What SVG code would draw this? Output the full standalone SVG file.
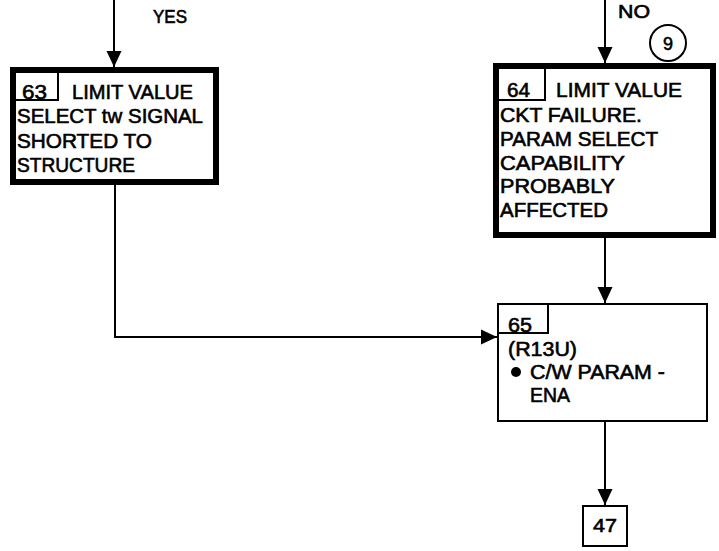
<svg xmlns="http://www.w3.org/2000/svg" width="719" height="551" viewBox="0 0 719 551">
<style>
text{font-family:"Liberation Sans",Arial,sans-serif;font-size:20px;fill:#000;stroke:#000;stroke-width:0.6}
.sm{font-size:18px}
.thick{fill:#fff;stroke:#000;stroke-width:6}
.thin{fill:#fff;stroke:#000;stroke-width:2}
.lbl{fill:none;stroke:#000;stroke-width:2}
.conn{fill:none;stroke:#000;stroke-width:2}
</style>
<defs>
<marker id="ah" markerWidth="16" markerHeight="16" refX="16" refY="8" orient="auto" markerUnits="userSpaceOnUse">
<path d="M0,0.5 L16,8 L0,15.5 Z" fill="#000"/>
</marker>
</defs>
<rect width="719" height="551" fill="#fff"/>
<g id="connectors">
<line class="conn" x1="114" y1="0" x2="114" y2="67" marker-end="url(#ah)"/>
<line class="conn" x1="605" y1="0" x2="605" y2="63" marker-end="url(#ah)"/>
<polyline class="conn" points="115,185 115,337 497,337" marker-end="url(#ah)"/>
<line class="conn" x1="605" y1="238" x2="605" y2="303" marker-end="url(#ah)"/>
<line class="conn" x1="605" y1="422" x2="605" y2="505" marker-end="url(#ah)"/>
<text class="sm" x="153" y="23" textLength="34" lengthAdjust="spacingAndGlyphs">YES</text>
<text class="sm" x="618" y="18" textLength="32" lengthAdjust="spacingAndGlyphs">NO</text>
</g>
<g id="node63">
<rect class="thick" x="13" y="70" width="203" height="112"/>
<polyline class="lbl" points="16,100 58,100 58,73"/>
<text x="22" y="99" textLength="25" lengthAdjust="spacingAndGlyphs">63</text>
<text x="72" y="99" textLength="121" lengthAdjust="spacingAndGlyphs">LIMIT VALUE</text>
<text x="17" y="123" textLength="186" lengthAdjust="spacingAndGlyphs">SELECT tw SIGNAL</text>
<text x="17" y="148" textLength="135" lengthAdjust="spacingAndGlyphs">SHORTED TO</text>
<text x="17" y="172" textLength="118" lengthAdjust="spacingAndGlyphs">STRUCTURE</text>
</g>
<g id="node9">
<circle cx="668" cy="43" r="18" fill="#fff" stroke="#000" stroke-width="2"/>
<text class="sm" x="668" y="50" text-anchor="middle">9</text>
</g>
<g id="node64">
<rect class="thick" x="496" y="66" width="217" height="169"/>
<polyline class="lbl" points="499,100 545,100 545,69"/>
<text x="507" y="97" textLength="23" lengthAdjust="spacingAndGlyphs">64</text>
<text x="556" y="97" textLength="126" lengthAdjust="spacingAndGlyphs">LIMIT VALUE</text>
<text x="500" y="122" textLength="142" lengthAdjust="spacingAndGlyphs">CKT FAILURE.</text>
<text x="500" y="146" textLength="158" lengthAdjust="spacingAndGlyphs">PARAM SELECT</text>
<text x="500" y="170" textLength="125" lengthAdjust="spacingAndGlyphs">CAPABILITY</text>
<text x="500" y="193" textLength="115" lengthAdjust="spacingAndGlyphs">PROBABLY</text>
<text x="500" y="217" textLength="108" lengthAdjust="spacingAndGlyphs">AFFECTED</text>
</g>
<g id="node65">
<rect class="thin" x="498" y="304" width="209" height="117"/>
<polyline class="lbl" points="498,333 548,333 548,304"/>
<text x="508" y="332" textLength="24" lengthAdjust="spacingAndGlyphs">65</text>
<text x="508" y="356" textLength="69" lengthAdjust="spacingAndGlyphs">(R13U)</text>
<circle cx="516" cy="372" r="5" fill="#000"/>
<text x="530" y="379" textLength="135" lengthAdjust="spacingAndGlyphs">C/W PARAM -</text>
<text x="530" y="402" textLength="40" lengthAdjust="spacingAndGlyphs">ENA</text>
</g>
<g id="node47">
<rect class="thin" x="583" y="506" width="44" height="40"/>
<text class="sm" x="593" y="532" textLength="24" lengthAdjust="spacingAndGlyphs">47</text>
</g>
</svg>
